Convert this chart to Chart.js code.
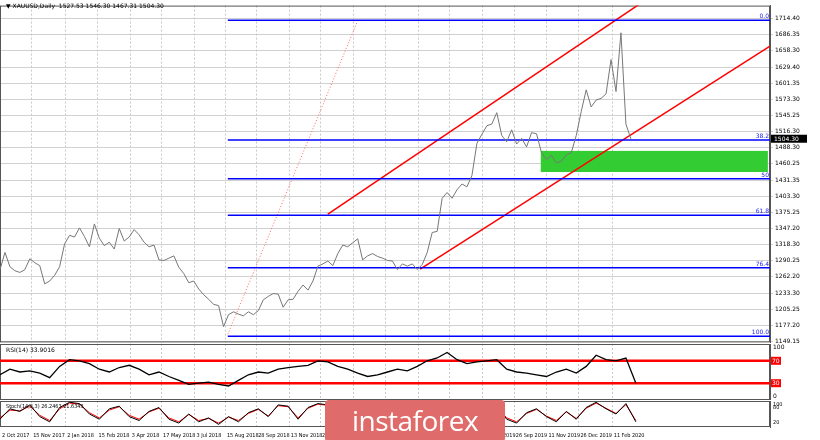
<!DOCTYPE html>
<html><head><meta charset="utf-8">
<script src="https://cdn.jsdelivr.net/npm/chart.js@4"></script>
<style>
body{margin:0;background:#fff;width:820px;height:440px;overflow:hidden;position:relative;font-family:"DejaVu Sans",sans-serif}
canvas{position:absolute;left:0}
#wm{position:absolute;left:325px;top:400px;width:180px;height:42px;background:#e06b6b;border-radius:4px;color:#fff;font:28px "Open Sans",sans-serif;text-align:center;line-height:40px;letter-spacing:-0.5px}
</style></head><body>
<canvas id="c1" width="820" height="348" style="top:0"></canvas>
<canvas id="c2" width="820" height="58" style="top:342px"></canvas>
<canvas id="c3" width="820" height="40" style="top:400px"></canvas>
<div id="wm">instaforex</div>
<script>
const title = "XAUUSD,Daily  1527.53 1546.30 1467.31 1504.30";
const weekStepDays = 7;
const prices = [1275,1305,1280,1273,1270, 1275,1294,1287,1282, 1250,1255,1265,1280,
 1320,1335,1332,1348, 1333,1315,1355,1330, 1317,1323,1311,1347,1325, 1332,1345,1336,1323,
 1315,1318,1292,1291, 1295,1299,1279,1268,1252, 1255,1241,1231,1223, 1214,1212,1175,1196,1201,
 1197,1194,1201,1196, 1203,1222,1228,1233, 1232,1209,1222,1223, 1237,1248,1239,1255,1281,
 1285,1290,1282,1303, 1318,1315,1322,1329, 1292,1299,1303,1298,1295, 1291,1290,1275,1285,
 1281,1285,1275,1284,1305, 1340,1342,1400,1410, 1400,1415,1425,1420, 1440,1496,1512,1527,1530,
 1550,1510,1499,1520,1495, 1505,1490,1515,1513, 1480,1468,1475,1462, 1465,1476,1480,1510,
 1552,1590,1560,1572, 1575,1583,1643,1587, 1690,1530,1504];
const rsiStepDays = 14;
const rsi = [45,55,50,52,48,40,60,72,70,65,55,50,58,62,55,45,50,42,35,28,30,32,28,25,35,45,50,48,55,58,60,62,70,68,60,55,48,42,45,50,55,52,60,70,75,85,72,65,68,70,72,55,50,48,45,42,50,55,48,60,80,72,70,75,30];
const stochK = [30,70,60,85,40,20,75,95,90,50,30,70,80,40,25,60,75,30,15,50,20,35,10,40,20,55,70,40,85,80,30,75,90,85,40,20,60,85,70,30,50,75,40,60,90,95,60,30,70,85,80,30,15,55,70,40,20,60,30,75,95,70,50,90,20];
const stochD = [35,65,62,80,45,25,70,92,88,55,35,65,78,45,30,58,72,35,20,48,25,33,15,38,25,52,68,42,82,78,35,72,88,83,45,25,58,82,70,35,50,72,42,60,88,92,62,35,68,82,78,35,20,52,68,42,25,58,33,72,92,72,52,86,25];
const priceTicks = [1714.40,1686.35,1658.30,1629.40,1601.35,1573.30,1545.25,1516.30,1488.30,1460.25,1431.35,1403.30,1375.25,1347.20,1318.30,1290.25,1262.20,1233.30,1205.25,1177.20,1149.15];
const dateLabels = ["2 Oct 2017","15 Nov 2017","2 Jan 2018","15 Feb 2018","3 Apr 2018","17 May 2018","3 Jul 2018","15 Aug 2018","28 Sep 2018","13 Nov 2018","27 Dec 2018","12 Feb 2019","28 Mar 2019","14 May 2019","27 Jun 2019","12 Aug 2019","26 Sep 2019","11 Nov 2019","26 Dec 2019","11 Feb 2020"];
const dateDays = [0,44,92,136,183,227,274,317,361,407,451,498,542,589,633,679,724,770,815,862];
const fibLevels = [1712,1502,1434,1370,1278,1158];
const fibNames = ["0.0","38.2","50","61.8","76.4","100.0"];
const fibStartDay = 321, fibEndDay = 1085;
const upperChannel = [{x:462,y:1372},{x:908,y:1746}];
const lowerChannel = [{x:592,y:1275.6},{x:1141,y:1711}];
const dottedLine = [{x:321,y:1161.5},{x:504,y:1711}];
const zone = {x1:762,x2:1082,y1:1483,y2:1446};
const lastPrice = 1504.30;
const rsiLevels=[70,30];
const XMAX=1085;

const pricePts = prices.map((v,i)=>({x:i*weekStepDays,y:v}));
const rsiPts = rsi.map((v,i)=>({x:i*rsiStepDays,y:v}));
const kPts = stochK.map((v,i)=>({x:i*rsiStepDays,y:v}));
const dPts = stochD.map((v,i)=>({x:i*rsiStepDays,y:v}));

Chart.defaults.animation=false;
Chart.defaults.font.family="DejaVu Sans";
Chart.defaults.font.size=7;
const fitR = s=>{s.width=50;};
function xScale(){return {type:'linear',min:0,max:XMAX,display:false};}
const vgrid={id:'vgrid',beforeDatasetsDraw(ch){const c=ch.ctx,a=ch.chartArea,x=ch.scales.x;c.save();c.strokeStyle='#c8c8c8';c.setLineDash([2,2]);c.lineWidth=1;
 dateDays.forEach(d=>{const px=Math.round(x.getPixelForValue(d))+0.5;c.beginPath();c.moveTo(px,a.top);c.lineTo(px,a.bottom);c.stroke();});
 c.setLineDash([]);c.strokeStyle='#555';c.strokeRect(a.left+0.5,a.top+0.5,a.right-a.left-1,a.bottom-a.top-1);c.restore();}};
const priceDecor={id:'pd',beforeDatasetsDraw(ch){const c=ch.ctx,x=ch.scales.x,y=ch.scales.y;c.save();
 c.fillStyle='#33cc33';c.fillRect(x.getPixelForValue(zone.x1),y.getPixelForValue(zone.y1),x.getPixelForValue(zone.x2)-x.getPixelForValue(zone.x1),y.getPixelForValue(zone.y2)-y.getPixelForValue(zone.y1));c.restore();},
 afterDraw(ch){const c=ch.ctx,x=ch.scales.x,y=ch.scales.y,a=ch.chartArea;c.save();c.font='6px DejaVu Sans';c.fillStyle='#2222ee';c.textAlign='right';
 fibLevels.forEach((l,i)=>c.fillText(fibNames[i],x.getPixelForValue(fibEndDay)-1,y.getPixelForValue(l)-2));
 c.fillStyle='#000';c.textAlign='left';c.fillText('▼ '+title,6,8);
 const py=y.getPixelForValue(lastPrice);c.fillStyle='#000';c.fillRect(a.right+1,py-4,36,8);c.fillStyle='#fff';c.fillText(lastPrice.toFixed(2),a.right+4,py+2.5);c.restore();}};
const yGrid={color:'#d0d0d0',lineWidth:1,drawTicks:true,tickLength:3,borderDash:[2,2]};

new Chart(document.getElementById('c1'),{type:'line',
 data:{datasets:[
  {data:pricePts,borderColor:'#777',borderWidth:1,pointRadius:0,tension:0},
  ...fibLevels.map(l=>({data:[{x:fibStartDay,y:l},{x:fibEndDay,y:l}],borderColor:'#0000ff',borderWidth:1.5,pointRadius:0})),
  {data:upperChannel,borderColor:'#ff0000',borderWidth:1.5,pointRadius:0},
  {data:lowerChannel,borderColor:'#ff0000',borderWidth:1.5,pointRadius:0},
  {data:dottedLine,borderColor:'#ff4040',borderWidth:0.8,borderDash:[1,2],pointRadius:0}
 ]},
 options:{responsive:false,maintainAspectRatio:false,layout:{padding:{top:0,bottom:0}},plugins:{legend:{display:false},tooltip:{enabled:false}},
  scales:{x:xScale(),y:{position:'right',min:1147.4,max:1737.6,afterFit:fitR,grid:yGrid,border:{color:'#555'},
   afterBuildTicks(s){s.ticks=priceTicks.map(v=>({value:v}));},ticks:{color:'#000',padding:2,autoSkip:false,font:{size:6},callback:v=>v.toFixed(2)}}}},
 plugins:[vgrid,priceDecor]});

const rsiDecor={id:'rd',afterDraw(ch){const c=ch.ctx,y=ch.scales.y,a=ch.chartArea;c.save();c.font='6px DejaVu Sans';
 c.fillStyle='#000';c.fillText('RSI(14) 33.9016',6,a.top+8);
 rsiLevels.forEach(l=>{const py=y.getPixelForValue(l);c.fillStyle='#ff0000';c.fillRect(a.right+1,py-4,10,8);c.fillStyle='#fff';c.fillText(String(l),a.right+2,py+2);});
 c.fillStyle='#000';c.fillText('100',a.right+3,a.top+5);c.fillText('0',a.right+3,a.bottom-2);c.restore();}};
new Chart(document.getElementById('c2'),{type:'line',
 data:{datasets:[{data:rsiPts,borderColor:'#000',borderWidth:1.3,pointRadius:0},
  ...rsiLevels.map(l=>({data:[{x:0,y:l},{x:XMAX,y:l}],borderColor:'#ff0000',borderWidth:2.5,pointRadius:0}))]},
 options:{responsive:false,maintainAspectRatio:false,layout:{padding:{top:2}},plugins:{legend:{display:false},tooltip:{enabled:false}},
  scales:{x:xScale(),y:{position:'right',min:0,max:100,afterFit:fitR,grid:{display:false},border:{color:'#555'},ticks:{display:false}}}},
 plugins:[vgrid,rsiDecor]});

const stDecor={id:'sd',afterDraw(ch){const c=ch.ctx,x=ch.scales.x,a=ch.chartArea;c.save();c.font='5.5px "DejaVu Sans Condensed"';c.fillStyle='#000';
 c.fillText('Stoch(14,3,3) 26.2463 21.6343',6,a.top+7);
 c.fillText('100',a.right+3,a.top+5);c.fillText('80',a.right+3,a.top+8);c.fillText('20',a.right+3,a.bottom-3);
 dateLabels.forEach((t,i)=>c.fillText(t,x.getPixelForValue(dateDays[i])+2,a.bottom+10));c.restore();}};
new Chart(document.getElementById('c3'),{type:'line',
 data:{datasets:[{data:kPts,borderColor:'#000',borderWidth:1,pointRadius:0},{data:dPts,borderColor:'#ff0000',borderWidth:1,pointRadius:0}]},
 options:{responsive:false,maintainAspectRatio:false,layout:{padding:{top:1,bottom:13}},plugins:{legend:{display:false},tooltip:{enabled:false}},
  scales:{x:xScale(),y:{position:'right',min:0,max:100,afterFit:fitR,grid:{display:false},border:{color:'#555'},ticks:{display:false}}}},
 plugins:[vgrid,stDecor]});
</script></body></html>
